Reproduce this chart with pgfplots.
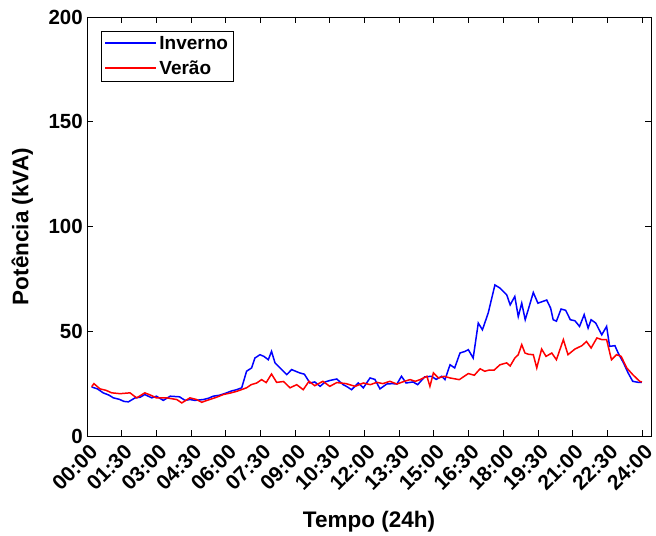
\documentclass[border=0pt]{standalone}
\usepackage{fontspec}
\setmainfont{Liberation Sans}
\usepackage{pgfplots}
\pgfplotsset{compat=1.18}
\usetikzlibrary{calc}
\definecolor{mblue}{RGB}{0,0,255}
\definecolor{mred}{RGB}{255,0,0}
\begin{document}
\begin{tikzpicture}
\begin{axis}[
  scale only axis,
  width=564pt, height=419pt,
  xmin=0, xmax=24.39, ymin=0, ymax=200,
  xtick={0,1.5,...,24},
  xticklabels={00:00,01:30,03:00,04:30,06:00,07:30,09:00,10:30,12:00,13:30,15:00,16:30,18:00,19:30,21:00,22:30,24:00},
  ytick={0,50,100,150,200},
  tick align=inside,
  major tick length=6pt,
  axis line style={line width=0.8pt},
  tick style={line width=0.8pt, black},
  /pgf/number format/assume math mode=true,
  ticklabel style={font=\fontsize{20.5}{22}\selectfont\bfseries},
  xticklabel style={font=\fontsize{21}{23}\selectfont\bfseries, rotate=45, anchor=north east, inner sep=2pt, yshift=-4pt, xshift=-2pt},
  yticklabel style={inner sep=4pt},
  xlabel={Tempo (24h)},
  ylabel={Potência (kVA)},
  label style={font=\fontsize{22.5}{24}\selectfont\bfseries},
  xlabel style={yshift=-13pt},
  ylabel style={yshift=8pt},
  legend cell align=left,
  legend style={at={(rel axis cs:0,1)}, anchor=north west, xshift=14pt, yshift=-14pt,
    font=\fontsize{19}{21}\selectfont\bfseries, text=black,
    inner sep=3pt, row sep=6pt},
  legend image post style={xscale=3, line width=2pt},
]
\addplot[color=mblue, line width=1.5pt] coordinates {
(0.2,23.4) (0.45,22.5) (0.7,20.6) (0.95,19.5) (1.14,18.2) (1.4,17.5) (1.6,16.5) (1.79,16.3)
(2.08,18.2) (2.3,18.5) (2.5,19.8) (2.8,18.2) (3.0,19.0) (3.3,17.0) (3.6,19.0) (4.0,18.7)
(4.24,17.0) (4.45,17.4) (4.67,17.0) (5.03,17.4) (5.25,18.0) (5.46,19.0) (5.75,19.5) (6.04,20.6)
(6.25,21.5) (6.47,22.1) (6.69,23.0) (6.9,30.9) (7.12,32.5) (7.26,37.2) (7.48,38.8) (7.65,38.0)
(7.84,36.4) (7.98,40.4) (8.13,34.9) (8.35,32.5) (8.64,29.3) (8.85,31.7) (9.0,31.0) (9.2,30.1)
(9.4,29.5) (9.64,25.3) (9.85,25.8) (10.08,23.7) (10.3,25.8) (10.5,26.5) (10.8,27.2) (11.08,24.5)
(11.25,23.5) (11.44,22.1) (11.73,25.3) (11.95,23.0) (12.24,27.7) (12.45,27.0) (12.67,22.5) (12.96,24.8)
(13.2,25.0) (13.4,24.8) (13.6,28.5) (13.8,25.3) (14.1,25.8) (14.3,24.5) (14.6,28.2) (14.9,28.5)
(15.1,27.0) (15.34,28.5) (15.48,26.9) (15.7,34.0) (15.9,32.5) (16.13,39.6) (16.35,40.4) (16.49,41.2)
(16.7,37.2) (16.92,53.9) (17.1,50.7) (17.35,58.7) (17.64,72.1) (17.86,70.6) (18.15,67.4) (18.3,62.6)
(18.5,66.6) (18.65,57.0) (18.8,63.4) (18.95,55.5) (19.1,61.0) (19.3,68.5) (19.5,63.4) (19.88,64.9)
(20.05,61.0) (20.16,55.5) (20.3,54.8) (20.5,60.6) (20.7,60.0) (20.9,55.5) (21.1,55.0) (21.3,52.3)
(21.5,57.9) (21.67,51.5) (21.8,55.5) (22.0,53.9) (22.26,48.3) (22.47,52.3) (22.6,42.8) (22.83,43.1)
(22.97,39.6) (23.2,34.9) (23.4,30.1) (23.6,26.1) (23.84,25.6) (24.0,25.6)
};
\addlegendentry{Inverno}
\addplot[color=mred, line width=1.5pt] coordinates {
(0.2,23.5) (0.3,25.0) (0.56,22.5) (0.82,21.8) (1.07,20.6) (1.43,20.2) (1.86,20.6) (2.0,19.4) (2.15,18.2)
(2.5,20.6) (2.75,19.5) (3.0,18.2) (3.45,18.2) (3.88,17.4) (4.1,15.8) (4.45,18.2) (4.74,17.4)
(4.96,16.1) (5.3,17.4) (5.6,18.5) (5.9,19.8) (6.2,20.5) (6.47,21.3) (6.9,23.0) (7.1,24.5)
(7.34,25.3) (7.55,26.9) (7.75,25.5) (7.98,29.6) (8.2,25.6) (8.5,26.0) (8.78,23.0) (9.07,24.5)
(9.35,22.1) (9.6,26.1) (9.85,24.0) (10.2,26.1) (10.5,23.7) (10.8,25.5) (11.2,25.0) (11.6,23.7)
(11.95,25.3) (12.25,24.5) (12.53,25.6) (12.8,25.0) (13.1,26.1) (13.4,24.8) (13.7,26.0) (13.97,26.9)
(14.2,26.1) (14.4,26.9) (14.7,28.5) (14.83,23.7) (14.98,30.1) (15.2,27.7) (15.45,28.5) (15.7,27.7)
(16.1,26.9) (16.49,29.8) (16.75,29.0) (17.0,32.1) (17.2,30.9) (17.4,31.5) (17.6,31.4) (17.86,34.0)
(18.15,34.9) (18.3,33.4) (18.5,37.2) (18.65,38.8) (18.8,43.6) (18.94,39.6) (19.1,39.0) (19.3,38.8)
(19.45,32.5) (19.66,41.5) (19.85,38.0) (20.1,39.6) (20.3,36.4) (20.6,46.0) (20.8,38.8) (21.1,41.5)
(21.4,43.1) (21.6,45.1) (21.8,42.0) (22.05,46.8) (22.26,46.0) (22.47,46.0) (22.68,36.4) (22.9,38.8)
(23.1,38.0) (23.34,32.5) (23.6,29.3) (23.9,26.1) (24.0,25.8)
};
\addlegendentry{Verão}
\coordinate (bl) at (rel axis cs:0,0);
\coordinate (tr) at (rel axis cs:1,1);
\end{axis}
\pgfresetboundingbox
\path ($(bl)+(-87pt,-100pt)$) rectangle ($(tr)+(5pt,17pt)$);
\end{tikzpicture}
\end{document}
